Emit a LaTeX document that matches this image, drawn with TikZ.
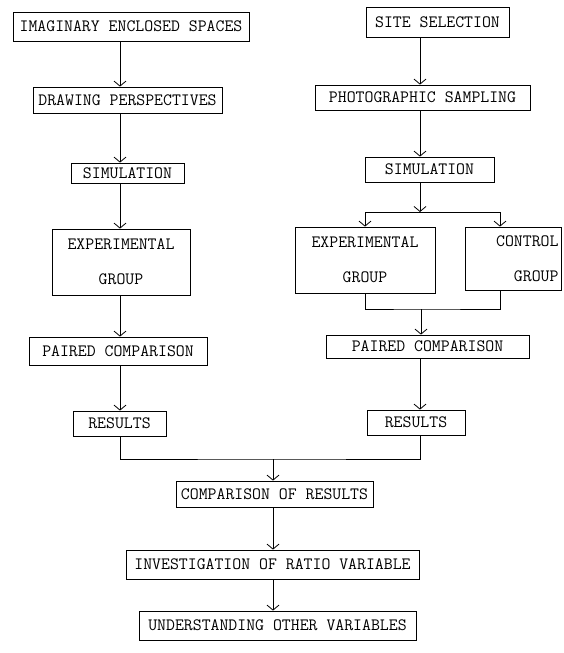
\documentclass[tikz,border=0pt]{standalone}
\usetikzlibrary{arrows.meta}
\begin{document}
\begin{tikzpicture}[x=1pt,y=-1pt,
  box/.style={draw, line width=0.8pt, inner sep=0pt, font=\ttfamily\fontsize{17.3}{20}\selectfont, align=center},
  arr/.style={-{Straight Barb[length=5pt,width=12pt]}, line width=0.8pt},
  ln/.style={line width=0.8pt}]
\useasboundingbox (0,0) rectangle (564,653);
% left column
\node[box, minimum width=236pt, minimum height=29pt] (ies) at (131,26.5) {IMAGINARY ENCLOSED SPACES};
\node[box, minimum width=189pt, minimum height=26pt] (dp) at (127.5,100) {DRAWING PERSPECTIVES};
\node[box, minimum width=113pt, minimum height=20pt] (simL) at (127.5,173) {SIMULATION};
\node[box, minimum width=138pt, minimum height=66pt] (expL) at (121,262) {EXPERIMENTAL\\[15pt]GROUP};
\node[box, minimum width=178pt, minimum height=28pt] (pcL) at (118,351) {PAIRED COMPARISON};
\node[box, minimum width=93pt, minimum height=25pt] (resL) at (119.5,423.5) {RESULTS};
% right column
\node[box, minimum width=143pt, minimum height=30pt] (site) at (437.5,22) {SITE SELECTION};
\node[box, minimum width=215pt, minimum height=25pt] (photo) at (422.5,97.5) {PHOTOGRAPHIC SAMPLING};
\node[box, minimum width=129pt, minimum height=25pt] (simR) at (429.5,169.5) {SIMULATION};
\node[box, minimum width=140pt, minimum height=66pt] (expR) at (365,260) {EXPERIMENTAL\\[15pt]GROUP};
\node[box, align=right, text width=91pt, inner xsep=2.5pt, minimum height=63pt] (ctrl) at (513,258.5) {CONTROL\\[15pt]GROUP\hspace*{9pt}};
\node[box, minimum width=203pt, minimum height=23pt] (pcR) at (427.5,346.5) {PAIRED COMPARISON};
\node[box, minimum width=98pt, minimum height=25pt] (resR) at (416,422.5) {RESULTS};
% bottom
\node[box, minimum width=197pt, minimum height=26pt] (cmp) at (274.5,494) {COMPARISON OF RESULTS};
\node[box, minimum width=293pt, minimum height=29pt] (inv) at (272.5,564.5) {INVESTIGATION OF RATIO VARIABLE};
\node[box, minimum width=277pt, minimum height=29pt] (und) at (277.5,625.5) {UNDERSTANDING OTHER VARIABLES};
% coordinates
\coordinate (cL) at (120,0);
\coordinate (cR) at (420,0);
\coordinate (cB) at (273,0);
\coordinate (split) at (420,212);
\coordinate (ctrlx) at (500,0);
\coordinate (mrg) at (421,309);
\coordinate (join) at (273,459);
% left connectors
\draw[arr] (ies.south -| cL) -- (dp.north -| cL);
\draw[arr] (dp.south -| cL) -- (simL.north -| cL);
\draw[arr] (simL.south -| cL) -- (expL.north -| cL);
\draw[arr] (expL.south -| cL) -- (pcL.north -| cL);
\draw[arr] (pcL.south -| cL) -- (resL.north -| cL);
% right connectors
\draw[arr] (site.south -| cR) -- (photo.north -| cR);
\draw[arr] (photo.south -| cR) -- (simR.north -| cR);
\draw[arr] (simR.south -| cR) -- (split);
\draw[arr] (split) -| (expR.north);
\draw[arr] (split) -| (ctrl.north -| ctrlx);
\draw[ln] (expR.south) |- (mrg) -| (ctrl.south -| ctrlx);
\draw[arr] (mrg) -- (pcR.north -| mrg);
\draw[arr] (pcR.south -| cR) -- (resR.north -| cR);
% bottom connectors
\draw[ln] (resL.south -| cL) |- (join) -| (resR.south -| cR);
\draw[arr] (join) -- (cmp.north -| join);
\draw[arr] (cmp.south -| cB) -- (inv.north -| cB);
\draw[arr] (inv.south -| cB) -- (und.north -| cB);
\end{tikzpicture}
\end{document}
